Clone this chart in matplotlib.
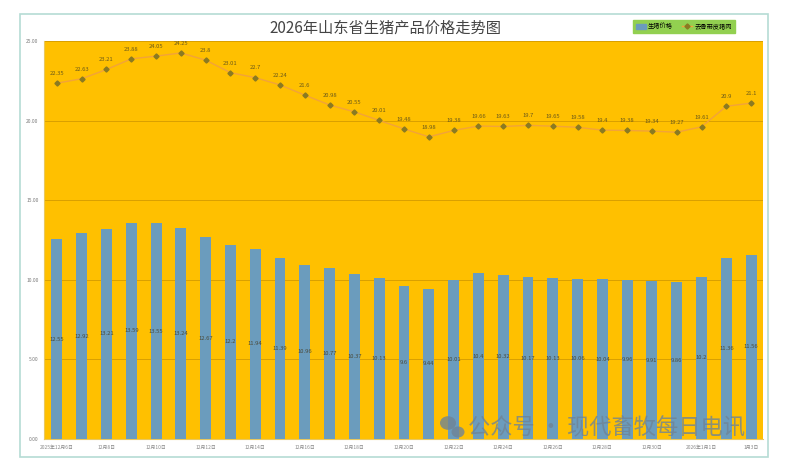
import matplotlib.pyplot as plt
from matplotlib.patches import Rectangle, Ellipse
from matplotlib.lines import Line2D

plt.rcParams['font.family'] = ['Noto Sans CJK SC', 'DejaVu Sans']

# x labels (every other point is labelled)
dates = ['2025年12月6日', '12月7日', '12月8日', '12月9日', '12月10日', '12月11日',
         '12月12日', '12月13日', '12月14日', '12月15日', '12月16日', '12月17日',
         '12月18日', '12月19日', '12月20日', '12月21日', '12月22日', '12月23日',
         '12月24日', '12月25日', '12月26日', '12月27日', '12月28日', '12月29日',
         '12月30日', '12月31日', '2026年1月1日', '1月2日', '1月3日']

hog_price = [12.55, 12.92, 13.21, 13.59, 13.55, 13.24, 12.67, 12.20, 11.94, 11.39,
             10.96, 10.77, 10.37, 10.13, 9.6, 9.44, 10.01, 10.40, 10.32, 10.17,
             10.13, 10.06, 10.04, 9.96, 9.91, 9.86, 10.2, 11.36, 11.56]

pork_price = [22.35, 22.63, 23.21, 23.88, 24.05, 24.25, 23.80, 23.01, 22.70, 22.24,
              21.6, 20.98, 20.55, 20.01, 19.48, 18.98, 19.38, 19.66, 19.63, 19.70,
              19.65, 19.58, 19.40, 19.38, 19.34, 19.27, 19.61, 20.90, 21.10]

series_names = ['生猪价格', '去骨带皮猪肉']
y_ticks = [0, 5, 10, 15, 20, 25]


def fmt(v):
    s = f'{v:.2f}'.rstrip('0').rstrip('.')
    return s


fig = plt.figure(figsize=(7.85, 4.67), dpi=100)

# chart frame
frame = Rectangle((20 / 785, 1 - 457 / 467), 748 / 785, 443 / 467,
                  transform=fig.transFigure, facecolor='white',
                  edgecolor='#b5dcd4', linewidth=1.2, zorder=-10)
fig.patches.append(frame)

ax = fig.add_axes([44 / 785, 1 - 439 / 467, 719 / 785, 398 / 467])
ax.set_zorder(1)
ax.set_facecolor('#FFC000')

x = list(range(len(dates)))
bars = ax.bar(x, hog_price, width=0.44, color='#6b9cbd', zorder=3)
ax.plot(x, pork_price, color='#F2A33A', linewidth=1.0, marker='D', markersize=2.6,
        markerfacecolor='#8a7a22', markeredgecolor='#8a7a22', zorder=4)

for xi, v in zip(x, hog_price):
    ax.text(xi, v / 2, fmt(v), ha='center', va='center', fontsize=4.2,
            color='#4a4a3a', zorder=5)
for xi, v in zip(x, pork_price):
    ax.text(xi, v + 0.45, fmt(v), ha='center', va='bottom', fontsize=4.2,
            color='#6b5a1a', zorder=5)

ax.set_xlim(-0.52, len(dates) - 0.52)
ax.set_ylim(0, 25)
ax.set_yticks(y_ticks)
ax.set_yticklabels([f'{t:.2f}' for t in y_ticks], fontsize=3.5, color='#777777')
ax.set_xticks(x[::2])
ax.set_xticklabels(dates[::2], fontsize=3.5, color='#888888')
ax.tick_params(length=0, pad=4)
ax.grid(axis='y', color='#D9A000', linewidth=0.7, zorder=1)
for s in ax.spines.values():
    s.set_visible(False)
ax.spines['left'].set_visible(True)
ax.spines['left'].set_color('#e8c860')
ax.spines['bottom'].set_visible(True)
ax.spines['bottom'].set_color('#e8c860')

fig.text(385 / 785, 1 - 28 / 467, '2026年山东省生猪产品价格走势图', ha='center',
         va='center', fontsize=11, color='#444444')

# legend
leg_handles = [Rectangle((0, 0), 1, 1, color='#6b9cbd'),
               Line2D([0], [0], color='#F2A33A', marker='D', markersize=2.6,
                      markerfacecolor='#8a7a22', markeredgecolor='#8a7a22', lw=1)]
leg = fig.legend(leg_handles, series_names, loc='center', ncol=2,
                 bbox_to_anchor=(684 / 785, 1 - 26.5 / 467), fontsize=4.5,
                 frameon=True, fancybox=False, handlelength=1.6, handleheight=0.8,
                 columnspacing=1.5, borderpad=0.35, handletextpad=0.4)
leg.get_frame().set_facecolor('#92D050')
leg.get_frame().set_edgecolor('#92D050')
leg.get_frame().set_alpha(1)

# watermark
for cx, cy, w in [(448, 423, 16), (458, 432, 13)]:
    fig.patches.append(Ellipse((cx / 785, 1 - cy / 467), w / 785, w * 0.85 / 467,
                               transform=fig.transFigure, facecolor='#6f8496',
                               alpha=0.8, zorder=10))
fig.text(607 / 785, 1 - 428 / 467, '公众号 · 现代畜牧每日电讯', ha='center',
         va='center', fontsize=16, color='#6f8496', alpha=0.8, zorder=10)

fig.savefig('out.png', dpi=100)
